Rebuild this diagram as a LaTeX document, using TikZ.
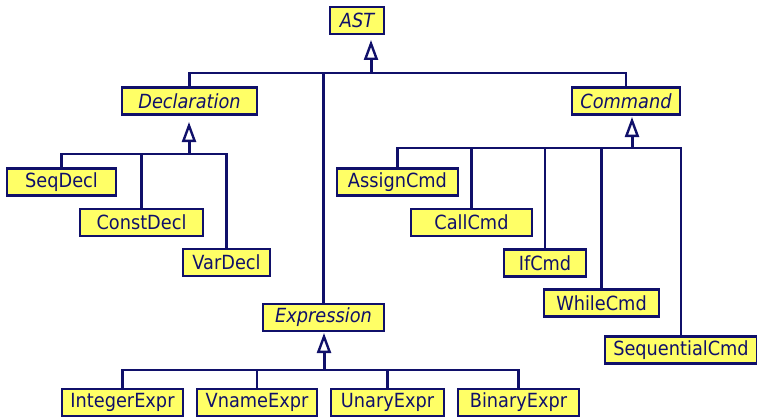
\documentclass[tikz,border=0pt]{standalone}
\usepackage{fontspec}
\setmainfont{DejaVu Sans}[FakeStretch=0.91]
\usetikzlibrary{arrows.meta}
\definecolor{navy}{HTML}{10106A}
\definecolor{boxfill}{HTML}{FFFF66}
\begin{document}
\begin{tikzpicture}[x=1pt,y=-1pt,
  cls/.style={draw=navy, line width=2.2pt, fill=boxfill, text=navy, minimum height=27pt, inner sep=0pt, font=\fontsize{19.5}{22}\selectfont},
  abs/.style={cls, font=\fontsize{19.5}{22}\selectfont\itshape},
  link/.style={draw=navy, line width=2.5pt},
  inherit/.style={draw=navy, line width=3pt, -{Triangle[open, length=20pt, width=14pt, line width=2.4pt, fill=white]}}]
\useasboundingbox (0,0) rectangle (757,417);
% classes
\node[abs, minimum width=54pt]  (ast)  at (357,20.5) {AST};
\node[abs, minimum width=135pt] (decl) at (189.5,101) {Declaration};
\node[abs, minimum width=108pt] (cmd)  at (626,101) {Command};
\node[abs, minimum width=121pt] (expr) at (323.5,317.5) {Expression};
\node[cls, minimum width=109pt] (seqdecl)   at (61.5,182) {SeqDecl};
\node[cls, minimum width=123pt] (constdecl) at (141.5,222.5) {ConstDecl};
\node[cls, minimum width=87pt]  (vardecl)   at (226.5,262.5) {VarDecl};
\node[cls, minimum width=121pt] (assign) at (397.5,182) {AssignCmd};
\node[cls, minimum width=121pt] (call)   at (471.5,222.5) {CallCmd};
\node[cls, minimum width=82pt]  (ifcmd)  at (545,263) {IfCmd};
\node[cls, minimum width=115pt] (while)  at (601.5,303) {WhileCmd};
\node[cls, minimum width=152pt] (seqcmd) at (681,350) {SequentialCmd};
\node[cls, minimum width=121pt] (intexpr) at (122.5,402.5) {IntegerExpr};
\node[cls, minimum width=120pt] (vname)   at (257,402.5) {VnameExpr};
\node[cls, minimum width=113pt] (unary)   at (387.5,402.5) {UnaryExpr};
\node[cls, minimum width=121pt] (binary)  at (518.5,402.5) {BinaryExpr};
% bus points and arrow tips
\coordinate (busA) at (371,73);  \coordinate (tipA) at (371,40);
\coordinate (busD) at (189,154); \coordinate (tipD) at (189,122);
\coordinate (busC) at (632,148); \coordinate (tipC) at (632,117);
\coordinate (busE) at (324,370); \coordinate (tipE) at (324,333);
% AST
\draw[link] (decl.north) |- (busA) -| (cmd.north);
\draw[link] (expr.north) -- (expr.north |- busA);
\draw[inherit] (busA) -- (tipA);
% Declaration
\draw[link] (seqdecl.north) |- (busD) -| (vardecl.north);
\draw[link] (constdecl.north) -- (constdecl.north |- busD);
\draw[inherit] (busD) -- (tipD);
% Command
\draw[link] (assign.north) |- (busC) -| (seqcmd.north);
\draw[link] (call.north) -- (call.north |- busC);
\draw[link] (ifcmd.north) -- (ifcmd.north |- busC);
\draw[link] (while.north) -- (while.north |- busC);
\draw[inherit] (busC) -- (tipC);
% Expression
\draw[link] (intexpr.north) |- (busE) -| (binary.north);
\draw[link] (vname.north) -- (vname.north |- busE);
\draw[link] (unary.north) -- (unary.north |- busE);
\draw[inherit] (busE) -- (tipE);
\end{tikzpicture}
\end{document}
